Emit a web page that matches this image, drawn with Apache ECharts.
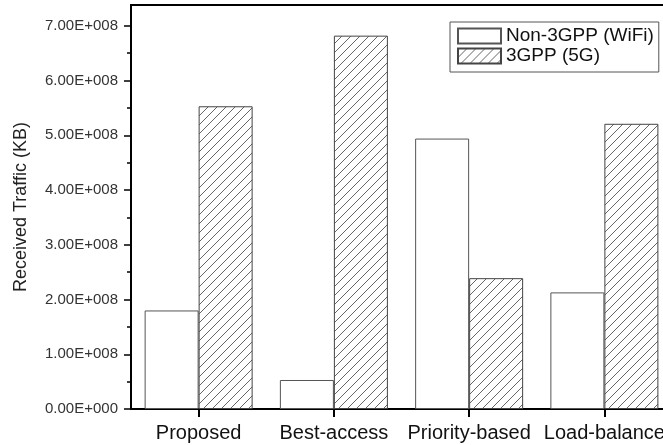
<!DOCTYPE html>
<html>
<head>
<meta charset="utf-8">
<script src="https://cdn.jsdelivr.net/npm/echarts@6/dist/echarts.min.js"></script>
<style>
html,body{margin:0;padding:0;background:#fff;overflow:hidden;width:663px;height:445px;}
#chart{width:690px;height:445px;}
</style>
</head>
<body>
<div id="chart"></div>
<script>
const categories = ['Proposed', 'Best-access', 'Priority-based', 'Load-balance'];
const seriesNames = ['Non-3GPP (WiFi)', '3GPP (5G)'];
const nonThreeGPP = [1.80e8, 0.53e8, 4.94e8, 2.13e8];
const threeGPP = [5.53e8, 6.82e8, 2.39e8, 5.21e8];
const yMajorTicks = [0, 1e8, 2e8, 3e8, 4e8, 5e8, 6e8, 7e8];
const yMinorTicks = [0.5e8, 1.5e8, 2.5e8, 3.5e8, 4.5e8, 5.5e8, 6.5e8];
const yMin = 0;
const yMax = 7.38e8;

function sci(v) {
  if (v === 0) return '0.00E+000';
  const e = Math.floor(Math.log10(v) + 1e-9);
  const m = v / Math.pow(10, e);
  return m.toFixed(2) + 'E+' + String(e).padStart(3, '0');
}

const tile = document.createElement('canvas');
const T = 9;
tile.width = T; tile.height = T;
const ctx = tile.getContext('2d');
ctx.fillStyle = '#fff';
ctx.fillRect(0, 0, T, T);
ctx.strokeStyle = '#666';
ctx.lineWidth = 1;
ctx.beginPath();
ctx.moveTo(-1, T + 1); ctx.lineTo(T + 1, -1);
ctx.moveTo(-2, 2); ctx.lineTo(2, -2);
ctx.moveTo(T - 2, T + 2); ctx.lineTo(T + 2, T - 2);
ctx.stroke();

const font = 'Liberation Sans, Arial, sans-serif';
const chart = echarts.init(document.getElementById('chart'), null, {renderer: 'canvas'});
chart.setOption({
  animation: false,
  backgroundColor: '#fff',
  grid: {
    left: 131, top: 5, width: 541, height: 404,
    show: true, borderColor: '#000', borderWidth: 2, backgroundColor: 'transparent'
  },
  legend: {
    orient: 'vertical',
    left: 450, top: 22,
    padding: [4, 5, 6, 7],
    itemWidth: 43, itemHeight: 15, itemGap: 0,
    borderColor: '#555', borderWidth: 1,
    icon: 'rect',
    textStyle: {fontFamily: font, fontSize: 19, color: '#111', lineHeight: 20},
    data: seriesNames
  },
  xAxis: {
    type: 'category',
    data: categories,
    boundaryGap: true,
    axisLine: {show: true, lineStyle: {color: '#000', width: 2}},
    axisTick: {show: true, alignWithLabel: true, inside: false, length: 8, lineStyle: {color: '#000', width: 2}},
    axisLabel: {fontFamily: font, fontSize: 20, color: '#111', margin: 14, interval: 0},
    splitLine: {show: false}
  },
  yAxis: [{
    type: 'value',
    min: yMin, max: yMax,
    name: 'Received Traffic (KB)',
    nameLocation: 'middle',
    nameGap: 101,
    nameTextStyle: {fontFamily: font, fontSize: 18, color: '#222'},
    axisLine: {show: true, lineStyle: {color: '#000', width: 2}},
    axisTick: {show: true, inside: false, length: 7, customValues: yMajorTicks, lineStyle: {color: '#000', width: 1.5}},
    axisLabel: {fontFamily: font, fontSize: 15, color: '#333', margin: 13, customValues: yMajorTicks, formatter: sci},
    splitLine: {show: false}
  }, {
    type: 'value',
    position: 'left',
    offset: 0,
    min: yMin, max: yMax,
    axisLine: {show: false},
    axisTick: {show: true, inside: false, length: 4, customValues: yMinorTicks, lineStyle: {color: '#000', width: 1.5}},
    axisLabel: {show: false},
    splitLine: {show: false}
  }],
  series: [{
    name: seriesNames[0],
    type: 'bar',
    yAxisIndex: 0,
    data: nonThreeGPP,
    barWidth: 54,
    barGap: '0%',
    itemStyle: {color: '#fff', borderColor: '#555', borderWidth: 1}
  }, {
    name: seriesNames[1],
    type: 'bar',
    yAxisIndex: 0,
    data: threeGPP,
    barWidth: 54,
    barGap: '0%',
    itemStyle: {color: {image: tile, repeat: 'repeat'}, borderColor: '#444', borderWidth: 1}
  }]
});
</script>
</body>
</html>
